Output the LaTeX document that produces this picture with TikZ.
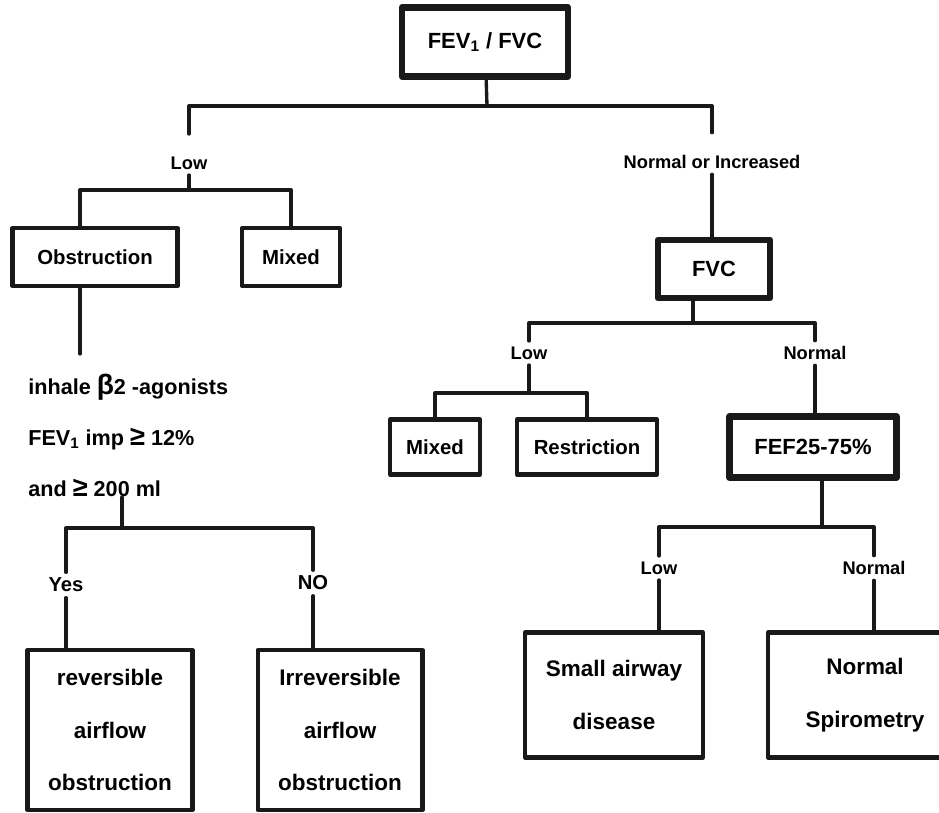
\documentclass[tikz,border=0pt]{standalone}
\usepackage{fontspec}
\setmainfont{Liberation Sans}
\usepackage{tikz}
\usetikzlibrary{positioning}

\newcommand{\atleast}{{\fontsize{15.5}{15}\selectfont ≥}}

\begin{document}
\begin{tikzpicture}[
    x=0.02cm, y=-0.02cm,
    line join=round, line cap=round,
    box/.style={rectangle, draw=black!90, line width=2.3pt, align=center, inner sep=0pt, font=\bfseries\fontsize{12.8}{30}\selectfont},
    keybox/.style={box, line width=3.8pt, font=\bfseries\fontsize{12.5}{15}\selectfont},
    midbox/.style={box, font=\bfseries\fontsize{11.6}{13}\selectfont},
    tag/.style={inner sep=3pt, font=\bfseries\fontsize{10.4}{12}\selectfont},
    answer/.style={tag, font=\bfseries\fontsize{11.5}{13}\selectfont},
    cond/.style={inner sep=0pt, align=left, font=\bfseries\fontsize{12.3}{29}\selectfont},
    link/.style={draw=black!90, line width=1.9pt},
]
\useasboundingbox (0,0) rectangle (939,813);
\clip (0,0) rectangle (939,813);

% ratio node
\node[keybox, minimum width=3.32cm, minimum height=1.38cm] (ratio) at (485,42) {FEV\textsubscript{1} / FVC};
\node[tag] (lowA) at (189,163) {Low};
\node[tag] (incA) at (712,162) {Normal or Increased};

% low ratio branch
\node[midbox, minimum width=3.3cm, minimum height=1.16cm] (obst) at (95,257) {Obstruction};
\node[midbox, minimum width=1.96cm, minimum height=1.16cm] (mixA) at (291,257) {Mixed};
\node[cond, anchor=north west] (bronch) at (28,374) {inhale {\fontsize{16}{16}\selectfont β}2 -agonists\\FEV\textsubscript{1} imp \atleast\ 12\%\\and \atleast\ 200 ml};
\node[answer] (yes) at (66,585) {Yes};
\node[answer] (no) at (313,583) {NO};
\node[box, minimum width=3.3cm, minimum height=3.2cm] (rev) at (110,730) {reversible\\airflow\\obstruction};
\node[box, minimum width=3.3cm, minimum height=3.2cm] (irr) at (340,730) {Irreversible\\airflow\\obstruction};

% normal ratio branch
\node[keybox, minimum width=2.24cm, minimum height=1.16cm] (fvc) at (714,269) {FVC};
\node[tag] (lowB) at (529,353) {Low};
\node[tag] (normB) at (815,353) {Normal};
\node[midbox, minimum width=1.8cm, minimum height=1.1cm] (mixB) at (435,447) {Mixed};
\node[midbox, minimum width=2.8cm, minimum height=1.1cm] (restr) at (587,447) {Restriction};
\node[keybox, minimum width=3.34cm, minimum height=1.22cm] (fef) at (813,447) {FEF25-75\%};
\node[tag] (lowC) at (659,568) {Low};
\node[tag] (normC) at (874,568) {Normal};
\node[box, minimum width=3.56cm, minimum height=2.5cm] (small) at (614,695) {Small airway\\disease};
\node[box, minimum width=3.88cm, minimum height=2.5cm] (spiro) at (865,695) {Normal\\Spirometry};

% junctions
\coordinate (j1) at (487,106);
\coordinate (j2) at (189,190);
\coordinate (j3) at (122,528);
\coordinate (j4) at (693,323);
\coordinate (j5) at (529,393);
\coordinate (j6) at (822,527);

\draw[link] (ratio) -- (j1);
\draw[link, shorten <=0.34cm, shorten >=0.34cm] (lowA.north) |- (j1) -| (incA.north);
\draw[link] (lowA.south) -- (j2);
\draw[link] ([xshift=-0.3cm]obst.north) |- (j2) -| (mixA.north);
\draw[link, shorten >=0.4cm] ([xshift=-0.3cm]obst.south) -- ([xshift=-0.3cm]obst.south |- bronch.north);
\draw[link] (bronch.south -| j3) -- (j3);
\draw[link] (yes.north) |- (j3) -| (no.north);
\draw[link] (yes.south) -- (yes.south |- rev.north);
\draw[link] (no.south) -- (no.south |- irr.north);

\draw[link] (incA.south) -- (incA.south |- fvc.north);
\draw[link] (fvc.south -| j4) -- (j4);
\draw[link] (lowB.north) |- (j4) -| (normB.north);
\draw[link] (lowB.south) -- (j5);
\draw[link] (mixB.north) |- (j5) -| (restr.north);
\draw[link] (normB.south) -- (normB.south |- fef.north);
\draw[link] (fef.south -| j6) -- (j6);
\draw[link] (lowC.north) |- (j6) -| (normC.north);
\draw[link] (lowC.south) -- (lowC.south |- small.north);
\draw[link] (normC.south) -- (normC.south |- spiro.north);

\end{tikzpicture}
\end{document}
